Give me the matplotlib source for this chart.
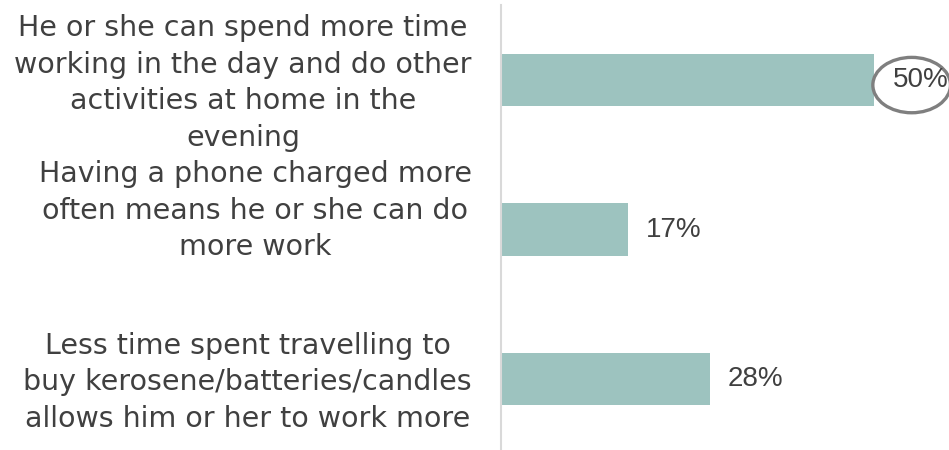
import matplotlib.pyplot as plt
from matplotlib.patches import Ellipse
from matplotlib.transforms import ScaledTranslation

# Raisons citées (ordre d'affichage de haut en bas)
reasons = [
    "He or she can spend more time\nworking in the day and do other\nactivities at home in the\nevening",
    "Having a phone charged more\noften means he or she can do\nmore work",
    "Less time spent travelling to\nbuy kerosene/batteries/candles\nallows him or her to work more",
]
shares = [50, 17, 28]

TEXT = "#404040"
BAR = "#9DC3BF"

plt.rcParams["font.family"] = ["DejaVu Sans"]

fig = plt.figure(figsize=(9.49, 4.5), dpi=100)
ax = fig.add_axes([501 / 949, -4 / 450, 1 - 501 / 949, 449 / 450])

pos = list(range(len(reasons)))
ax.barh(pos, shares, height=0.35, color=BAR)

ax.set_xlim(0, 60)
ax.set_ylim(2.5, -0.5)

ax.set_yticks(pos)
ax.set_yticklabels(reasons, fontsize=20.5, color=TEXT, multialignment="center",
                   linespacing=1.38)
ax.tick_params(axis="y", length=0, pad=21)
ax.set_xticks([])

# léger décalage vertical des libellés (le deuxième est plus haut que sa barre)
dys = [0.04, 0.26, 0.04]
for lbl, dy in zip(ax.get_yticklabels(), dys):
    lbl.set_transform(lbl.get_transform() + ScaledTranslation(0, dy, fig.dpi_scale_trans))

for s in ["top", "right", "bottom"]:
    ax.spines[s].set_visible(False)
ax.spines["left"].set_color("#D9D9D9")
ax.spines["left"].set_linewidth(1.5)

# étiquettes de valeur
for p, v in zip(pos, shares):
    ax.annotate(f"{v}%", (v, p), xytext=(13, 0), textcoords="offset points",
                va="center", ha="left", fontsize=20, color=TEXT,
                family=["Liberation Sans", "DejaVu Sans"])

# cercle de mise en avant autour de la plus grande valeur
top = shares.index(max(shares))
ax.add_patch(Ellipse((max(shares) + 5.0, top + 0.035), 10.4, 0.37, fill=False,
                     edgecolor="#7F7F7F", linewidth=2.4, clip_on=False))

fig.savefig("out.png", dpi=100)
